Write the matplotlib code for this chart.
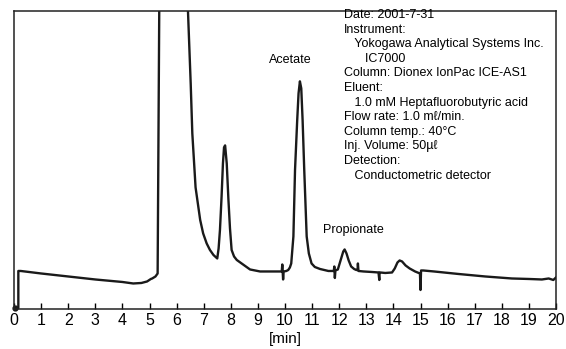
import matplotlib
matplotlib.use("Agg")
import matplotlib.pyplot as plt

plt.rcParams['font.family'] = ['Liberation Sans', 'DejaVu Sans']

# Chromatogram trace (time in min, detector signal, arbitrary units)
time_min = [0.05, 0.16, 0.16, 0.25, 1.0, 2.0, 3.0, 4.0, 4.4, 4.7, 4.91, 5.05, 5.1, 5.22, 5.30,
            5.36, 5.45, 5.7, 6.0, 6.3, 6.42, 6.52, 6.58, 6.70, 6.87, 6.98, 7.11, 7.23, 7.36, 7.5,
            7.55, 7.6, 7.66, 7.71, 7.75, 7.79, 7.85, 7.91, 7.97, 8.03, 8.12, 8.22, 8.4, 8.71,
            9.08, 9.5, 9.88, 9.9, 9.93, 9.95, 10.05, 10.12, 10.18, 10.23, 10.31, 10.37, 10.45,
            10.5, 10.55, 10.6, 10.65, 10.71, 10.8, 10.88, 10.98, 11.1, 11.29, 11.6, 11.8,
            11.82, 11.84, 11.86, 11.95, 12.05, 12.15, 12.2, 12.27, 12.35, 12.44, 12.55,
            12.63, 12.68, 12.69, 12.71, 12.9, 13.2, 13.45, 13.48, 13.49, 13.51, 13.7, 13.95,
            14.05, 14.15, 14.23, 14.32, 14.45, 14.6, 14.8, 14.98, 15.0, 15.02, 15.1, 15.5,
            16.4, 17.39, 18.37, 19.0, 19.48, 19.73, 19.9, 20.0]
signal = [0.5, 0.5, 37.5, 37.5, 35.0, 32.0, 29.0, 26.5, 25.0, 25.5, 27.0, 29.5, 30.0, 32.0, 35.0,
          300.0, 600.0, 850.0, 800.0, 450.0, 297.0, 225.0, 175.0, 121.0, 88.5, 75.0, 65.0, 58.5, 53.5, 50.0,
          60.0, 78.5, 112.0, 145.0, 161.0, 163.0, 145.0, 110.0, 80.0, 58.5, 52.0, 48.5, 45.0, 39.0,
          37.0, 37.0, 37.0, 44.0, 29.0, 37.0, 37.5, 38.5, 41.0, 45.0, 72.0, 138.5, 188.0,
          215.0, 227.0, 220.0, 188.0, 138.5, 72.0, 55.0, 45.0, 41.5, 39.5, 37.5, 37.5,
          42.0, 30.5, 38.0, 39.0, 48.0, 57.0, 59.0, 55.0, 48.0, 42.0, 39.5,
          38.5, 38.5, 45.0, 37.5, 37.0, 36.5, 36.0, 28.5, 36.0, 36.0, 35.5, 36.0,
          40.0, 46.0, 48.0, 47.0, 43.0, 40.0, 37.0, 35.0, 18.5, 38.0, 38.0, 37.0,
          34.5, 32.0, 30.0, 29.5, 29.0, 30.0, 28.5, 31.0]

peak_labels = ["Acetate", "Propionate"]
peak_label_pos = [(10.2, 248.5), (12.52, 78.5)]

info_lines = ["Date: 2001-7-31", "Instrument:", "   Yokogawa Analytical Systems Inc.",
              "      IC7000", "Column: Dionex IonPac ICE-AS1", "Eluent:",
              "   1.0 mM Heptafluorobutyric acid", "Flow rate: 1.0 m\u2113/min.",
              "Column temp.: 40\u00b0C", "Inj. Volume: 50\u00b5\u2113", "Detection:",
              "   Conductometric detector"]

xticks = list(range(0, 21))

fig = plt.figure(figsize=(5.66, 3.49), dpi=100)
ax = fig.add_axes([14/566, 40.5/349, 542/566, 297.2/349])
ax.plot(time_min, signal, color='#1a1a1a', lw=1.7, solid_joinstyle='round')
ax.plot([time_min[0]], [signal[0]], 'o', color='#1a1a1a', ms=3.5, clip_on=False)
ax.set_xlim(0, 20)
ax.set_ylim(0, 297)
ax.set_yticks([])
ax.set_xticks(xticks)
ax.set_xticklabels([str(t) for t in xticks], fontsize=11.5)
ax.tick_params(axis='x', direction='in', length=4, width=1, pad=3)
for s in ax.spines.values():
    s.set_linewidth(1.1)
    s.set_color('#222222')
ax.set_xlabel('[min]', fontsize=11, labelpad=3)

for lab, (x, y) in zip(peak_labels, peak_label_pos):
    ax.text(x, y, lab, fontsize=9, ha='center', va='center')

for i, line in enumerate(info_lines):
    fig.text(344/566, 1 - (15 + 14.6*i)/349, line, fontsize=9, ha='left', va='center')

fig.savefig('out.png', dpi=100)
